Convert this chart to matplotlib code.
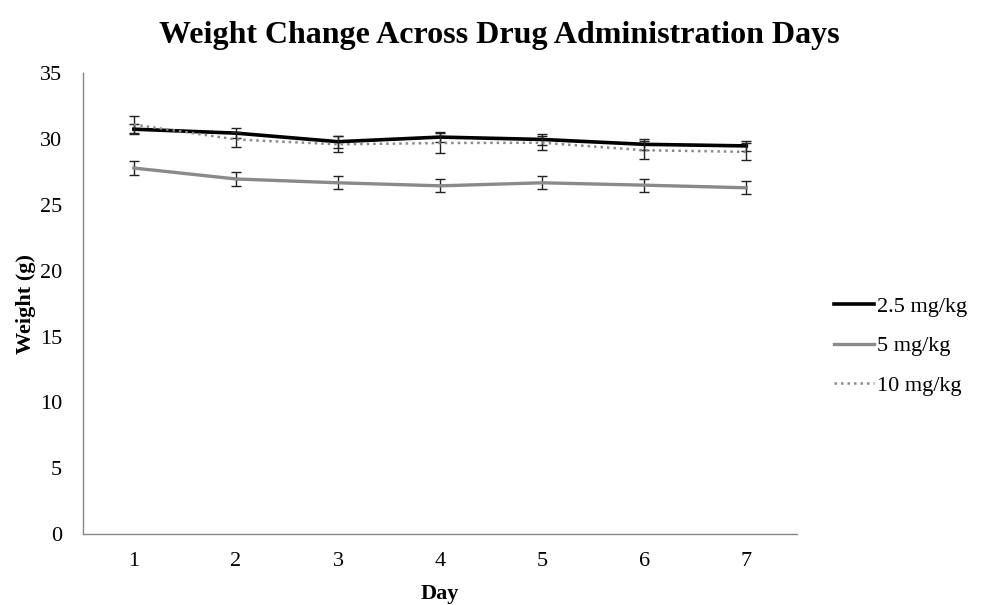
import matplotlib; matplotlib.use("Agg")
import matplotlib.pyplot as plt

days = [1, 2, 3, 4, 5, 6, 7]
w_25 = [30.75, 30.45, 29.8, 30.15, 29.97, 29.6, 29.48]
w_5 = [27.8, 26.97, 26.68, 26.45, 26.68, 26.5, 26.3]
w_10 = [31.1, 29.97, 29.6, 29.7, 29.72, 29.15, 29.03]
err_25 = [0.4, 0.4, 0.45, 0.4, 0.4, 0.4, 0.4]
err_5 = [0.5, 0.5, 0.5, 0.5, 0.5, 0.5, 0.5]
err_10 = [0.65, 0.6, 0.6, 0.75, 0.55, 0.7, 0.65]
labels = ["2.5 mg/kg", "5 mg/kg", "10 mg/kg"]

plt.rcParams['font.family'] = ['Liberation Serif', 'DejaVu Serif']
fig = plt.figure(figsize=(9.98, 6.05), dpi=100)
ax = fig.add_axes([0.083, 0.117, 0.716, 0.762])

ekw = dict(ecolor="#222222", elinewidth=1.0, capsize=3.5, capthick=1.0)
ax.errorbar(days, w_25, yerr=err_25, color="black", lw=2.6, label=labels[0], zorder=3, **ekw)
ax.errorbar(days, w_5, yerr=err_5, color="#8a8a8a", lw=2.4, label=labels[1], zorder=2, **ekw)
ax.errorbar(days, w_10, yerr=err_10, color="#8a8a8a", lw=1.8, ls=(0, (1, 1.6)), label=labels[2], zorder=4, **ekw)

ax.set_xlim(0.5, 7.5); ax.set_ylim(0, 35)
ax.set_xticks(days); ax.set_yticks(range(0, 36, 5))
ax.tick_params(length=0, labelsize=16)
ax.tick_params(axis="x", pad=13)
ax.tick_params(axis="y", pad=15)
for s in ["top", "right"]: ax.spines[s].set_visible(False)
for s in ["left", "bottom"]: ax.spines[s].set_color("#888888"); ax.spines[s].set_linewidth(1.0)

ax.set_xlabel("Day", fontsize=16, fontweight="bold", labelpad=9)
ax.set_ylabel("Weight (g)", fontsize=16, fontweight="bold", labelpad=3)
fig.suptitle("Weight Change Across Drug Administration Days", fontsize=23, fontweight="bold", x=0.5, y=0.965)

h, l = ax.get_legend_handles_labels()
h = [x[0] for x in h]
fig.legend(h, l, loc="center left", bbox_to_anchor=(0.836, 0.428), frameon=False, fontsize=16,
           handlelength=1.8, handletextpad=0.1, labelspacing=0.85, borderpad=0, borderaxespad=0)

fig.savefig("out.png", dpi=100)
